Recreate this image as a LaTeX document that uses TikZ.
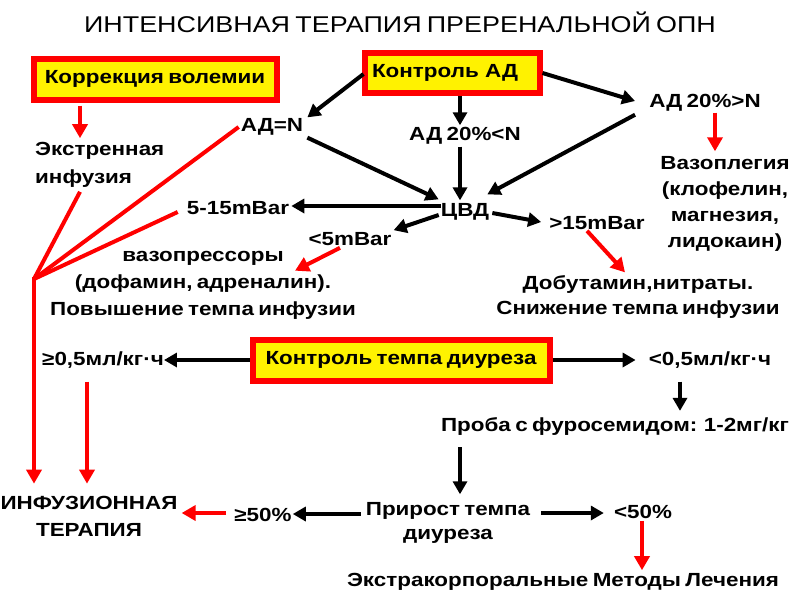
\documentclass[tikz,border=0pt]{standalone}
\usepackage{fontspec}
\setmainfont{Liberation Sans}[FakeStretch=1.18,WordSpace=0.7]
\usetikzlibrary{arrows.meta,calc}
\begin{document}
\begin{tikzpicture}[x=1pt,y=-1pt,
  lbl/.style={font=\bfseries\fontsize{19}{26}\selectfont, inner sep=0pt, align=center},
  ybox/.style={draw=red, line width=6pt, fill=yellow, inner sep=0pt, font=\bfseries\fontsize{19}{26}\selectfont},
  blk/.style={line width=4pt, black, -{Triangle[length=13pt,width=14pt]}},
  redarr/.style={line width=4pt, red, -{Triangle[length=14pt,width=15pt]}},
  redln/.style={line width=4pt, red}]
\useasboundingbox (0,0) rectangle (800,600);
\fill[white] (0,0) rectangle (800,600);

\node[font=\fontsize{22.8}{26}\selectfont, inner sep=0pt] (title) at (400,22) {ИНТЕНСИВНАЯ ТЕРАПИЯ ПРЕРЕНАЛЬНОЙ ОПН};

\node[ybox, minimum width=243pt, minimum height=41pt] (kv) at (155,79) {Коррекция волемии};
\node[ybox, minimum width=175pt, minimum height=40pt, text width=160pt] (kad) at (452,73) {Контроль АД};
\node[ybox, minimum width=297pt, minimum height=41pt] (ktd) at (401,360) {Контроль темпа диуреза};

\node[lbl] (adn) at (272,127) {АД=N};
\node[lbl] (adl) at (465,136) {АД 20\%<N};
\node[lbl] (adg) at (705,103) {АД 20\%>N};
\node[lbl, align=left, anchor=west, font=\bfseries\fontsize{19}{28}\selectfont] (ei) at (35,165) {Экстренная\\инфузия};
\node[lbl] (vaz) at (725,204) {Вазоплегия\\(клофелин,\\магнезия,\\лидокаин)};
\node[lbl] (cvd) at (465,212) {ЦВД};
\node[lbl] (m515) at (238,208) {5-15mBar};
\node[lbl] (m5) at (350,239) {<5mBar};
\node[lbl] (m15) at (597,223) {>15mBar};
\node[lbl, font=\bfseries\fontsize{19}{27}\selectfont] (vp) at (203,285) {вазопрессоры\\(дофамин, адреналин).\\Повышение темпа инфузии};
\node[lbl, font=\bfseries\fontsize{19}{25}\selectfont] (dob) at (638,297) {Добутамин,нитраты.\\Снижение темпа инфузии};
\node[lbl] (ge05) at (103,360) {≥0,5мл/кг·ч};
\node[lbl] (lt05) at (710,360) {<0,5мл/кг·ч};
\node[lbl] (pr) at (615,426) {Проба с фуросемидом: 1-2мг/кг};
\node[lbl, font=\bfseries\fontsize{19}{24}\selectfont] (pt) at (448,523) {Прирост темпа\\диуреза};
\node[lbl] (lt50) at (643,512) {<50\%};
\node[lbl] (ge50) at (263,515) {≥50\%};
\node[lbl, font=\bfseries\fontsize{19}{27}\selectfont] (it) at (89,516) {ИНФУЗИОННАЯ\\ТЕРАПИЯ};
\node[lbl] (ekm) at (563,582) {Экстракорпоральные Методы Лечения};

\coordinate (conv) at (34,279);

% black arrows
\draw[blk] ($(kad.west)+(2,1)$) -- ($(adn.north east)+(4,-1)$);
\draw[blk] (kad.south -| 460,0) -- ($(adl.north -| 460,0)+(0,-2)$);
\draw[blk] (kad.east) -- ($(adg.west)+(-14,-2)$);
\draw[blk] ($(adn.south east)+(4,2)$) -- ($(cvd.north west)+(-2,-4)$);
\draw[blk] ($(adl.south -| 460,0)+(0,2)$) -- ($(cvd.north -| 460,0)+(0,-3)$);
\draw[blk] ($(adg.south west)+(-14,3)$) -- ($(cvd.north east)+(-2,-9)$);
\draw[blk] (cvd.west |- 0,206) -- ($(m515.east |- 0,206)+(2,0)$);
\draw[blk] ($(cvd.west |- 0,215)+(-2,0)$) -- ($(m5.north east)+(2,-2)$);
\draw[blk] ($(cvd.east |- 0,213)+(3,0)$) -- ($(m15.west)+(-8,-1)$);
\draw[blk] (ktd.west) -- (ge05.east);
\draw[blk] (ktd.east) -- ($(lt05.west)+(-13,0)$);
\draw[blk] ($(lt05.south -| 680,0)+(0,13)$) -- ($(pr.north -| 680,0)+(0,-6)$);
\draw[blk] ($(pr.south -| 460,0)+(0,12)$) -- ($(pt.north -| 460,0)+(0,-8)$);
\draw[blk] ($(pt.east |- 0,513)+(11,0)$) -- ($(lt50.west)+(-10,1)$);
\draw[blk] ($(pt.west |- 0,514)+(-5,0)$) -- ($(ge50.east)+(1,-1)$);

% red arrows
\draw[redarr] ($(kv.south -| 80,0)+(0,3)$) -- ($(ei.north -| 80,0)+(0,-4)$);
\draw[redarr] ($(adg.south -| 715,0)+(0,1)$) -- ($(vaz.north -| 715,0)+(0,-5)$);
\draw[redarr] ($(m15.south)+(-10,1)$) -- ($(dob.north)+(-13,-3)$);
\draw[redarr] ($(m5.south)+(-10,2)$) -- ($(vp.north)+(92,20)$);
\draw[redln] ($(adn.west)+(-2,0)$) -- (conv);
\draw[redln] ($(ei.south -| 80,0)+(0,4)$) -- (conv);
\draw[redln] ($(m515.west)+(-9,4)$) -- (conv);
\draw[redarr] ($(conv)+(0,-2)$) -- ($(it.north -| 34,0)+(0,-12)$);
\draw[redarr] ($(ge05.south -| 87,0)+(0,13)$) -- ($(it.north -| 87,0)+(0,-12)$);
\draw[redarr] ($(ge50.west)+(-8,-2)$) -- ($(it.east |- ge50.west)+(4,-2)$);
\draw[redarr] ($(lt50.south -| 642,0)+(0,2)$) -- ($(ekm.north -| 642,0)+(0,-3)$);
\end{tikzpicture}
\end{document}
